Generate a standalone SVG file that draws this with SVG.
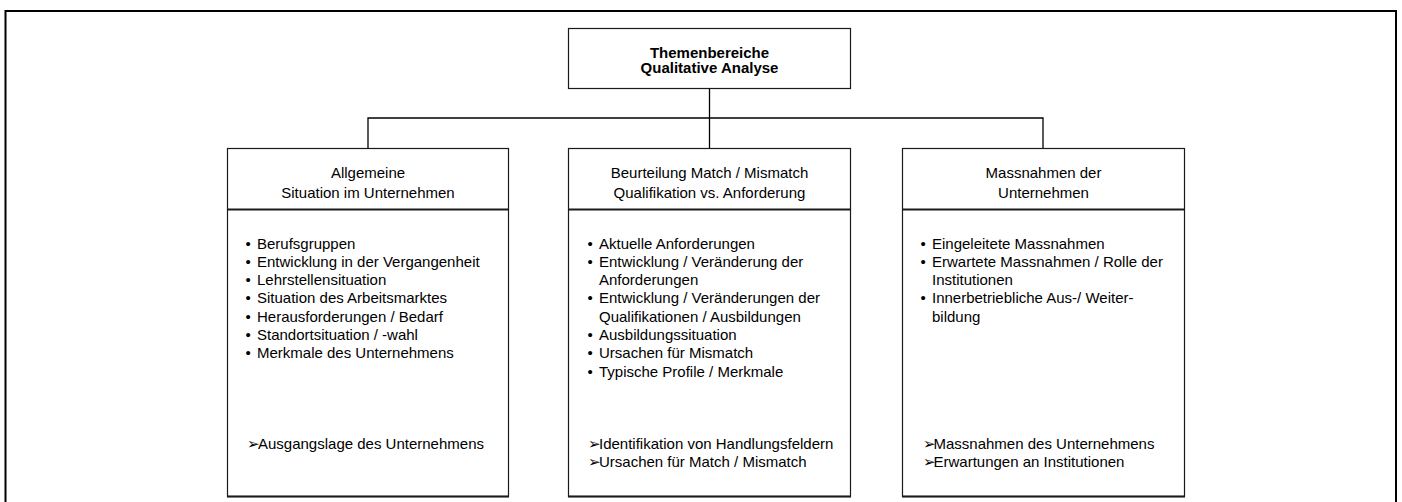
<svg xmlns="http://www.w3.org/2000/svg" width="1402" height="502" viewBox="0 0 1402 502">
<style>
  .box { fill: #ffffff; stroke: #1a1a1a; stroke-width: 1.2; }
  .div { stroke: #1a1a1a; stroke-width: 2; }
  .conn { fill: none; stroke: #000000; stroke-width: 1.3; }
  .t { font-family: "Liberation Sans", Arial, sans-serif; font-size: 15px; fill: #000000; }
  .h { text-anchor: middle; }
  .b { font-weight: bold; }
  .arr { font-family: "DejaVu Sans", sans-serif; font-size: 15px; fill: #000000; }
</style>
<rect x="0" y="0" width="1402" height="502" fill="#ffffff"/>
<path d="M5.5 510 V11 H1396 V510" fill="none" stroke="#000000" stroke-width="2"/>

<g id="connectors">
  <path class="conn" d="M709.5 88 V148"/>
  <path class="conn" d="M368 148 V118 H1043 V148"/>
</g>

<g id="root">
  <rect class="box" x="568.5" y="28.5" width="282" height="60"/>
  <text class="t h b" x="709.5" y="57.5">Themenbereiche</text>
  <text class="t h b" x="709.5" y="72.5">Qualitative Analyse</text>
</g>

<g id="node-allgemeine">
  <rect class="box" x="227.5" y="148.5" width="281" height="348"/>
  <line class="div" x1="227.5" y1="209.5" x2="508.5" y2="209.5"/>
  <line class="div" x1="227" y1="496.5" x2="509" y2="496.5"/>
  <text class="t h" x="368" y="177.5">Allgemeine</text>
  <text class="t h" x="368" y="197.5">Situation im Unternehmen</text>
  <text class="t" x="245.5" y="248.5">•</text><text class="t" x="257" y="248.5">Berufsgruppen</text>
  <text class="t" x="245.5" y="266.8">•</text><text class="t" x="257" y="266.8">Entwicklung in der Vergangenheit</text>
  <text class="t" x="245.5" y="285.1">•</text><text class="t" x="257" y="285.1">Lehrstellensituation</text>
  <text class="t" x="245.5" y="303.4">•</text><text class="t" x="257" y="303.4">Situation des Arbeitsmarktes</text>
  <text class="t" x="245.5" y="321.7">•</text><text class="t" x="257" y="321.7">Herausforderungen / Bedarf</text>
  <text class="t" x="245.5" y="340">•</text><text class="t" x="257" y="340">Standortsituation / -wahl</text>
  <text class="t" x="245.5" y="358.3">•</text><text class="t" x="257" y="358.3">Merkmale des Unternehmens</text>
  <text class="arr" x="247" y="448.5">➢</text><text class="t" x="258" y="448.5">Ausgangslage des Unternehmens</text>
</g>

<g id="node-beurteilung">
  <rect class="box" x="568.5" y="148.5" width="282" height="348"/>
  <line class="div" x1="568.5" y1="209.5" x2="850.5" y2="209.5"/>
  <line class="div" x1="568" y1="496.5" x2="851" y2="496.5"/>
  <text class="t h" x="709.5" y="177.5">Beurteilung Match / Mismatch</text>
  <text class="t h" x="709.5" y="197.5">Qualifikation vs. Anforderung</text>
  <text class="t" x="587.5" y="248.5">•</text><text class="t" x="599" y="248.5">Aktuelle Anforderungen</text>
  <text class="t" x="587.5" y="266.8">•</text><text class="t" x="599" y="266.8">Entwicklung / Veränderung der</text>
  <text class="t" x="599" y="285.1">Anforderungen</text>
  <text class="t" x="587.5" y="303.4">•</text><text class="t" x="599" y="303.4">Entwicklung / Veränderungen der</text>
  <text class="t" x="599" y="321.7">Qualifikationen / Ausbildungen</text>
  <text class="t" x="587.5" y="340">•</text><text class="t" x="599" y="340">Ausbildungssituation</text>
  <text class="t" x="587.5" y="358.3">•</text><text class="t" x="599" y="358.3">Ursachen für Mismatch</text>
  <text class="t" x="587.5" y="376.6">•</text><text class="t" x="599" y="376.6">Typische Profile / Merkmale</text>
  <text class="arr" x="588" y="448.5">➢</text><text class="t" x="599" y="448.5">Identifikation von Handlungsfeldern</text>
  <text class="arr" x="588" y="467">➢</text><text class="t" x="599" y="467">Ursachen für Match / Mismatch</text>
</g>

<g id="node-massnahmen">
  <rect class="box" x="902.5" y="148.5" width="282" height="348"/>
  <line class="div" x1="902.5" y1="209.5" x2="1184.5" y2="209.5"/>
  <line class="div" x1="902" y1="496.5" x2="1185" y2="496.5"/>
  <text class="t h" x="1043.5" y="177.5">Massnahmen der</text>
  <text class="t h" x="1043.5" y="197.5">Unternehmen</text>
  <text class="t" x="920.5" y="248.5">•</text><text class="t" x="932" y="248.5">Eingeleitete Massnahmen</text>
  <text class="t" x="920.5" y="266.8">•</text><text class="t" x="932" y="266.8">Erwartete Massnahmen / Rolle der</text>
  <text class="t" x="932" y="285.1">Institutionen</text>
  <text class="t" x="920.5" y="303.4">•</text><text class="t" x="932" y="303.4">Innerbetriebliche Aus-/ Weiter-</text>
  <text class="t" x="932" y="321.7">bildung</text>
  <text class="arr" x="923" y="448.5">➢</text><text class="t" x="933.5" y="448.5">Massnahmen des Unternehmens</text>
  <text class="arr" x="923" y="467">➢</text><text class="t" x="933.5" y="467">Erwartungen an Institutionen</text>
</g>
</svg>
